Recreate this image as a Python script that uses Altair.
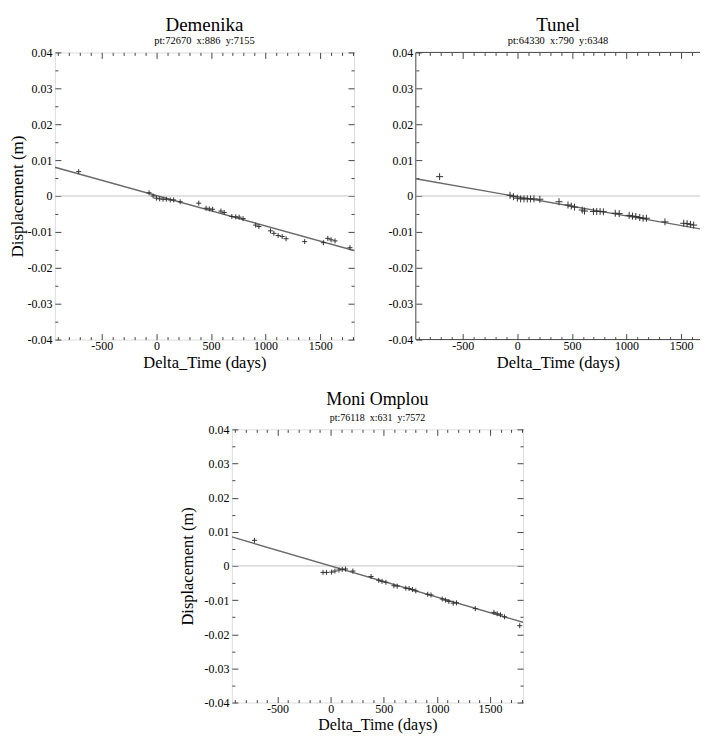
import altair as alt
import pandas as pd

# ---------------- data ----------------
x_domain = [-930, 1810]
x_domain_tunel = [-930, 1673]
y_domain = [-0.04, 0.04]
x_tick_values = list(range(-900, 1801, 100))
x_tick_values_tunel = list(range(-900, 1601, 100))
y_tick_values = [i / 200 for i in range(-8, 9)]
fit_t = [-930, 1810]
zero_values = [0.0]

dem_t = [-712, -67, -30, 0, 30, 61, 91, 127, 158, 218, 388, 455, 485, 515, 591, 621,
         691, 727, 758, 794, 909, 939, 1045, 1076, 1115, 1152, 1188, 1358, 1530, 1570,
         1600, 1636, 1773]
dem_d = [0.0068, 0.0009, 0.0, -0.0006, -0.0008, -0.0009, -0.0009, -0.0011, -0.0011,
         -0.0016, -0.0020, -0.0034, -0.0036, -0.0037, -0.0042, -0.0046, -0.0057, -0.0058,
         -0.0059, -0.0063, -0.0081, -0.0085, -0.0097, -0.0104, -0.0110, -0.0113, -0.0119,
         -0.0127, -0.0130, -0.0118, -0.0122, -0.0125, -0.0144]
dem_fit = [0.0080, -0.0152]

tun_t = [-712, -67, -36, 0, 30, 61, 91, 121, 152, 206, 382, 464, 494, 524, 594, 615,
         697, 727, 758, 788, 897, 933, 1024, 1055, 1085, 1121, 1152, 1182, 1352, 1524,
         1555, 1585, 1615]
tun_d = [0.0054, 0.0002, -0.0002, -0.0006, -0.0008, -0.0008, -0.0008, -0.0008, -0.0008,
         -0.0009, -0.0016, -0.0025, -0.0028, -0.0031, -0.0039, -0.0042, -0.0043, -0.0043,
         -0.0043, -0.0044, -0.0048, -0.0049, -0.0054, -0.0056, -0.0057, -0.0060, -0.0062,
         -0.0062, -0.0072, -0.0076, -0.0077, -0.0079, -0.0081]
tun_fit = [0.0048, -0.0099]

moni_t = [-717, -72, -40, 9, 40, 78, 109, 140, 209, 380, 452, 483, 520, 595, 626, 707,
          738, 769, 801, 913, 944, 1050, 1081, 1112, 1153, 1184, 1361, 1536, 1567, 1598,
          1636, 1779]
moni_d = [0.0075, -0.0019, -0.0019, -0.0018, -0.0015, -0.0012, -0.0010, -0.0009, -0.0015,
          -0.0031, -0.0042, -0.0045, -0.0048, -0.0058, -0.0059, -0.0065, -0.0066, -0.0069,
          -0.0073, -0.0083, -0.0085, -0.0097, -0.0100, -0.0104, -0.0109, -0.0108, -0.0125,
          -0.0136, -0.0140, -0.0143, -0.0149, -0.0175]
moni_fit = [0.0085, -0.0165]

FONT = "Liberation Serif"
PLUS = "M-1,0L1,0M0,-1L0,1"
MINUS = "\u2212"
SP = "\u00a0\u00a0"
FRAME = "#444444"


def panel(t, d, fit, title, subtitle, W, H, ytitle, msize, tsize, ssize, lsize, atsize,
          xdom, xvals, sub_pad, offset, ytitle_pad=0, clipped=False):
    pts = pd.DataFrame({"t": t, "d": d})
    fitdf = pd.DataFrame({"t": fit_t, "d": fit})
    zdf = pd.DataFrame({"d": zero_values})

    xs = alt.Scale(domain=xdom, nice=False, zero=False)
    ys = alt.Scale(domain=y_domain, nice=False, zero=False)

    if clipped:
        ydash_major, ydash_minor = [6, 5000], [3, 5000]
    else:
        ydash_major, ydash_minor = [6, W - 12, 6, 5000], [3, W - 6, 3, 5000]

    xaxis = alt.Axis(
        values=xvals,
        grid=True,
        gridColor=FRAME,
        gridWidth=1,
        gridOpacity=1,
        gridDash={"condition": {"test": "datum.value % 500 === 0",
                                "value": [6, H - 12, 6, 5000]},
                  "value": [3, H - 6, 3, 5000]},
        ticks=False,
        tickSize=0,
        domain=False,
        labelExpr="datum.value % 500 === 0 ? replace(format(datum.value, 'd'), '" + MINUS + "', '-') : ''",
        labelFont=FONT,
        labelFontSize=lsize,
        labelColor="black",
        labelPadding=0.5,
        labelOverlap=False,
        labelFlush=False,
        title="Delta_Time (days)",
        titleFont=FONT,
        titleFontSize=atsize,
        titleFontWeight="normal",
        titleColor="black",
        titlePadding=3,
    )
    yaxis = alt.Axis(
        values=y_tick_values,
        grid=True,
        gridColor=FRAME,
        gridWidth=1,
        gridOpacity=1,
        gridDash={"condition": {"test": "abs(round(datum.value * 1000)) % 10 === 0",
                                "value": ydash_major},
                  "value": ydash_minor},
        ticks=False,
        tickSize=0,
        domain=False,
        labelExpr="abs(round(datum.value * 1000)) % 10 === 0 ? replace(format(datum.value, '.2~f'), '" + MINUS + "', '-') : ''",
        labelFont=FONT,
        labelFontSize=lsize,
        labelColor="black",
        labelPadding=3,
        labelOverlap=False,
        labelFlush=False,
        title=ytitle,
        titleFont=FONT,
        titleFontSize=atsize + 0.5,
        titleFontWeight="normal",
        titleColor="black",
        titlePadding=ytitle_pad,
    )
    x = alt.X("t:Q", scale=xs, axis=xaxis)
    y = alt.Y("d:Q", scale=ys, axis=yaxis)

    layers = []
    layers.append(alt.Chart(zdf).mark_rule(color="#c4c4c4", strokeWidth=1).encode(y=y))
    if clipped:
        ldf = pd.DataFrame({"t": [xdom[0]]})
        tbdf = pd.DataFrame({"d": y_domain})
        layers.append(alt.Chart(ldf).mark_rule(color=FRAME, strokeWidth=1).encode(x=x))
        layers.append(alt.Chart(tbdf).mark_rule(color=FRAME, strokeWidth=1).encode(y=y))
    layers.append(alt.Chart(fitdf).mark_line(color="#6a6a6a", strokeWidth=1.4, clip=True).encode(x=x, y=y))
    layers.append(alt.Chart(pts).mark_point(
        shape=PLUS, filled=False, size=msize, strokeWidth=1, color="#333333", opacity=1, clip=True
    ).encode(x=x, y=y))

    props = dict(
        width=W,
        height=H,
        title=alt.TitleParams(
            text=title,
            subtitle=subtitle,
            font=FONT,
            fontSize=tsize,
            fontWeight="normal",
            color="black",
            subtitleFont=FONT,
            subtitleFontSize=ssize,
            subtitleColor="black",
            subtitlePadding=sub_pad,
            anchor="middle",
            frame="group",
            offset=offset,
        ),
    )
    if clipped:
        props["view"] = alt.ViewBackground(stroke="transparent")
    return alt.layer(*layers).properties(**props)


p1 = panel(dem_t, dem_d, dem_fit, "Demenika", "pt:72670" + SP + "x:886" + SP + "y:7155",
           300, 288, "Displacement (m)", 25, 19, 10.5, 12, 16.5, x_domain, x_tick_values,
           1, 0)
p2 = panel(tun_t, tun_d, tun_fit, "Tunel", "pt:64330" + SP + "x:790" + SP + "y:6348",
           285, 288, None, 49, 19, 10.5, 12, 16.5, x_domain_tunel, x_tick_values_tunel,
           1, 0, clipped=True)
p3 = panel(moni_t, moni_d, moni_fit, "Moni Omplou", "pt:76118" + SP + "x:631" + SP + "y:7572",
           292, 274, "Displacement (m)", 25, 18, 10, 12, 16, x_domain, x_tick_values,
           4.5, 0, ytitle_pad=8)

top = alt.hconcat(p1, p2, spacing=32)

chart = alt.vconcat(top, p3, spacing=19, center=True).properties(
    padding={"left": 0, "top": 6.5, "right": 0, "bottom": 0}
).configure_view(stroke=FRAME, strokeWidth=1).configure(background="white")

chart.save("out.html", embed_options={"renderer": "svg", "actions": False})
